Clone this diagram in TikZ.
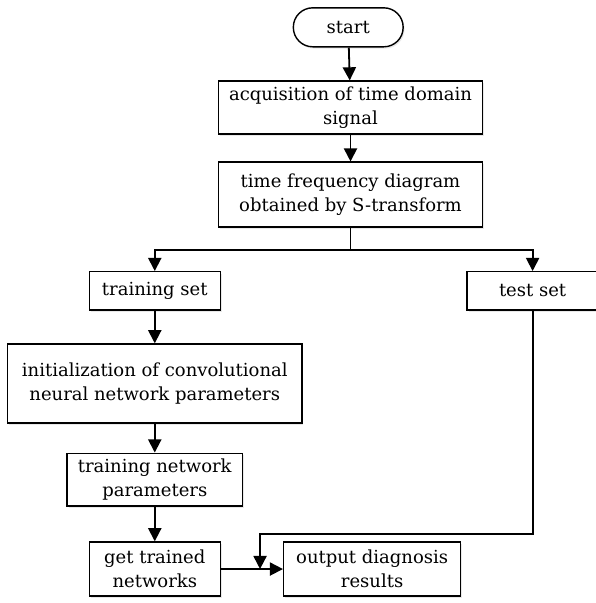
\documentclass[tikz,border=0pt]{standalone}
\usepackage{fontspec}
\setmainfont{DejaVu Serif}
\usetikzlibrary{shapes, arrows.meta, positioning, calc, shadows}

\begin{document}
\begin{tikzpicture}[
    arr/.style={-{Triangle[length=2.3mm, width=2.3mm]}, line width=0.9pt},
    box/.style={draw, line width=0.7pt, fill=white, align=center, inner sep=0pt,
                drop shadow={opacity=0.18, shadow xshift=0.7pt, shadow yshift=-0.9pt},
                font=\fontsize{9pt}{12pt}\selectfont}
  ]
    \useasboundingbox (0,0) rectangle (10.474,-10.597);

    % top column
    \node[box, rounded corners=0.34cm, minimum width=1.93cm,
          minimum height=0.685cm] (start) at (6.12,-0.48) {start};
    \node[box, minimum width=4.64cm, minimum height=0.93cm]
      (acq) at (6.16,-1.89) {acquisition of time domain\\signal};
    \node[box, minimum width=4.64cm, minimum height=1.14cm]
      (tfd) at (6.16,-3.42) {time frequency diagram\\obtained by S-transform};

    % the two sets
    \node[box, minimum width=2.30cm, minimum height=0.67cm]
      (trainset) at (2.72,-5.11) {training set};
    \node[box, minimum width=2.30cm, minimum height=0.67cm]
      (testset) at (9.36,-5.11) {test set};

    % left column
    \node[box, minimum width=5.17cm, minimum height=1.39cm]
      (init) at (2.72,-6.74) {initialization of convolutional\\neural network parameters};
    \node[box, minimum width=3.08cm, minimum height=0.93cm]
      (tnp) at (2.72,-8.43) {training network\\parameters};
    \node[box, minimum width=2.30cm, minimum height=0.95cm]
      (gtn) at (2.72,-10.0) {get trained\\networks};
    \node[box, minimum width=3.11cm, minimum height=0.95cm]
      (out) at (6.54,-10.0) {output diagnosis\\results};

    \coordinate (split) at ($(tfd.south)+(0,-0.39)$);
    \coordinate (join) at (4.57,-10.0);
    \coordinate (turn) at (4.57,-9.38);

    \draw[arr] (start) -- (acq);
    \draw[arr] (acq) -- (tfd);
    \draw[line width=0.9pt] (tfd.south) -- (split);
    \draw[arr] (split) -| (trainset);
    \draw[arr] (split) -| (testset);
    \draw[arr] (trainset) -- (init);
    \draw[arr] (init) -- (tnp);
    \draw[arr] (tnp) -- (gtn);
    \draw[arr] (gtn) -- (out);
    \draw[arr] (testset.south) |- (turn) -- (join);
\end{tikzpicture}
\end{document}
